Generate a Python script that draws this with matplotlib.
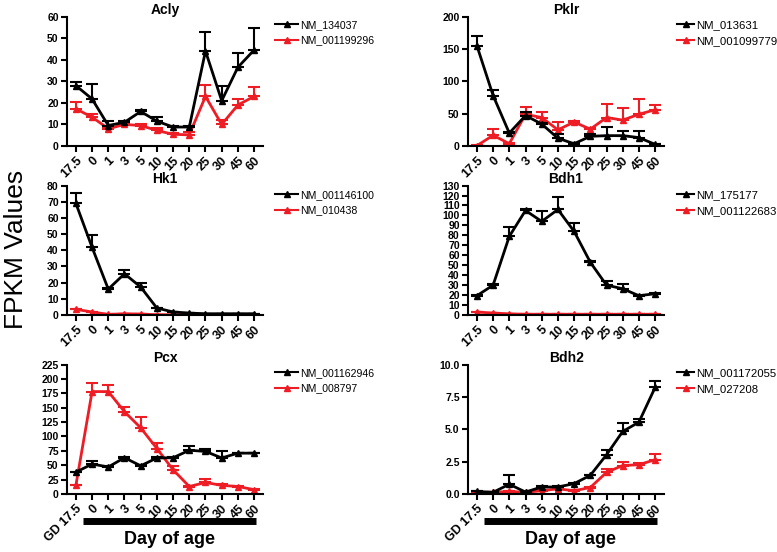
import matplotlib
matplotlib.use('Agg')
import matplotlib.pyplot as plt
import matplotlib.transforms as mtrans
from matplotlib.lines import Line2D
import numpy as np

plt.rcParams['font.family'] = ['Liberation Sans', 'DejaVu Sans']

days = ['17.5', '0', '1', '3', '5', '10', '15', '20', '25', '30', '45', '60']
days_gd = ['GD 17.5'] + days[1:]

# Acly
acly_ids = ['NM_134037', 'NM_001199296']
acly_blk = [28, 21.8, 9.5, 11, 16, 11.5, 8.8, 8.8, 44, 21, 36.5, 44.5]
acly_blk_err = [1.8, 7, 2, 0.5, 0.5, 2, 0.5, 0.5, 9, 7, 6.5, 10]
acly_red = [17.2, 13.4, 8, 10, 9.5, 7.2, 5.4, 5.2, 23, 10, 19, 23]
acly_red_err = [3, 1.6, 1, 0.5, 0.5, 1.1, 0.5, 1.5, 5.3, 2, 2.8, 4.2]

# Pklr
pklr_ids = ['NM_013631', 'NM_001099779']
pklr_blk = [155, 78, 20, 47, 34, 12, 3.5, 15, 16, 16, 13, 2.5]
pklr_blk_err = [15, 8, 1, 5, 2, 6, 0.5, 4, 13, 7, 10, 0.5]
pklr_red = [0.5, 16.5, 3.6, 49, 44, 25, 37, 26, 44, 40, 49, 56]
pklr_red_err = [0.5, 10, 0.5, 12, 8, 12, 2, 2, 21, 19, 24, 7]

# Hk1
hk1_ids = ['NM_001146100', 'NM_010438']
hk1_blk = [69, 41.8, 16, 25.5, 17.3, 4.3, 1.9, 1.2, 0.8, 0.8, 0.8, 0.8]
hk1_blk_err = [6.7, 7.6, 0.5, 2.5, 2.4, 0.3, 0.2, 0.2, 0.1, 0.1, 0.1, 0.1]
hk1_red = [3.5, 1.9, 0.4, 0.8, 0.6, 0.2, 0.2, 0.2, 0.2, 0.2, 0.2, 0.2]
hk1_red_err = [0.3, 0.2, 0.1, 0.1, 0.1, 0.1, 0.1, 0.1, 0.1, 0.1, 0.1, 0.1]

# Bdh1
bdh1_ids = ['NM_175177', 'NM_001122683']
bdh1_blk = [19.4, 30, 79, 105, 94, 106, 84, 53, 30, 26.4, 19.4, 21.4]
bdh1_blk_err = [1, 1.5, 9, 1, 10, 13, 8, 1, 4, 4.7, 1, 1]
bdh1_red = [3, 2, 1.2, 0.8, 0.8, 0.8, 0.8, 0.8, 0.8, 0.8, 0.8, 0.8]
bdh1_red_err = [0.3, 0.2, 0.1, 0.1, 0.1, 0.1, 0.1, 0.1, 0.1, 0.1, 0.1, 0.1]

# Pcx
pcx_ids = ['NM_001162946', 'NM_008797']
pcx_blk = [38, 52, 47, 63, 49, 62.6, 63, 76, 74, 62.6, 71, 71]
pcx_blk_err = [1, 6, 1, 1, 1, 1, 1, 7, 5, 12, 1, 1]
pcx_red = [15, 178, 178, 143, 115, 79, 42, 13, 20, 15, 13, 7.5]
pcx_red_err = [1, 14.6, 12, 8, 18, 9, 6, 1, 6, 3, 1, 1]

# Bdh2
bdh2_ids = ['NM_001172055', 'NM_027208']
bdh2_blk = [0.2, 0.13, 0.75, 0.15, 0.54, 0.54, 0.8, 1.44, 3.03, 4.83, 5.55, 8.23]
bdh2_blk_err = [0.05, 0.03, 0.7, 0.03, 0.05, 0.05, 0.05, 0.05, 0.33, 0.64, 0.28, 0.46]
bdh2_red = [0.08, 0.13, 0.2, 0.13, 0.25, 0.4, 0.25, 0.5, 1.67, 2.2, 2.26, 2.65]
bdh2_red_err = [0.02, 0.02, 0.05, 0.02, 0.05, 0.1, 0.05, 0.05, 0.25, 0.26, 0.1, 0.45]

RED = '#ee1c25'

panels = [
    ('Acly', acly_ids, acly_blk, acly_blk_err, acly_red, acly_red_err, (0, 60), np.arange(0, 61, 10), '%d'),
    ('Pklr', pklr_ids, pklr_blk, pklr_blk_err, pklr_red, pklr_red_err, (0, 200), np.arange(0, 201, 50), '%d'),
    ('Hk1', hk1_ids, hk1_blk, hk1_blk_err, hk1_red, hk1_red_err, (0, 80), np.arange(0, 81, 10), '%d'),
    ('Bdh1', bdh1_ids, bdh1_blk, bdh1_blk_err, bdh1_red, bdh1_red_err, (0, 130), np.arange(0, 131, 10), '%d'),
    ('Pcx', pcx_ids, pcx_blk, pcx_blk_err, pcx_red, pcx_red_err, (0, 225), np.arange(0, 226, 25), '%d'),
    ('Bdh2', bdh2_ids, bdh2_blk, bdh2_blk_err, bdh2_red, bdh2_red_err, (0, 10), np.arange(0, 10.1, 2.5), '%.1f'),
]

W, H = 777, 552
fig = plt.figure(figsize=(W / 100, H / 100), dpi=100)

lefts = [0.0862, 0.6023]
bottoms = [0.7355, 0.4293, 0.1051]
w = 0.2523
h = 0.2345

# legend placement (pixels from top-left)
leg_x = [275, 677]
leg_y = [20, 190, 368]
leg_fs = [7.6, 8.2]
leg_hl = [2.2, 1.5]

x = np.arange(len(days))
for k, (name, ids, yb, eb, yr, er, ylim, yt, fmt) in enumerate(panels):
    row, col = k // 2, k % 2
    ax = fig.add_axes([lefts[col], bottoms[row], w, h])
    zb = np.zeros(len(yb))
    ax.errorbar(x, yr, yerr=[zb, er], color=RED, lw=2, marker='^', ms=5,
                capsize=4, capthick=1.5, elinewidth=1.5, zorder=2)
    ax.errorbar(x, yb, yerr=[zb, eb], color='black', lw=2, marker='^', ms=5,
                capsize=4, capthick=1.5, elinewidth=1.5, zorder=3)
    ax.set_xlim(-0.55, 11.55)
    ax.set_ylim(*ylim)
    ax.set_yticks(yt)
    ax.set_yticklabels([fmt % v for v in yt], fontsize=7.5, fontweight='bold')
    ax.set_xticks(x)
    labels = days_gd if row == 2 else days
    ax.set_xticklabels(labels, rotation=45, ha='right', rotation_mode='anchor',
                       fontsize=9, fontweight='bold')
    for s in ['top', 'right']:
        ax.spines[s].set_visible(False)
    for s in ['left', 'bottom']:
        ax.spines[s].set_linewidth(1.5)
    ax.tick_params(width=1.5, length=4, pad=2)
    ax.set_title(name, fontsize=10, fontweight='bold', pad=2)
    handles = [Line2D([], [], color='black', lw=1.5, marker='^', ms=4),
               Line2D([], [], color=RED, lw=1.5, marker='^', ms=4)]
    fig.legend(handles, ids, loc='upper left',
               bbox_to_anchor=(leg_x[col] / W, 1 - leg_y[row] / H),
               frameon=False, fontsize=leg_fs[col], handlelength=leg_hl[col],
               handletextpad=0.2, borderpad=0, borderaxespad=0, labelspacing=0.5)
    if row == 2:
        tr = mtrans.blended_transform_factory(ax.transData, ax.transAxes)
        ax.plot([0.45, 11.1], [-0.21, -0.21], color='black', lw=5,
                transform=tr, clip_on=False, solid_capstyle='butt')
        ax.text(5.8, -0.35, 'Day of age', transform=tr, ha='center', va='center',
                fontsize=13, fontweight='bold')

fig.text(0.02, 0.549, 'FPKM Values', rotation=90, ha='center', va='center', fontsize=19)

fig.savefig('out.png', dpi=100)
